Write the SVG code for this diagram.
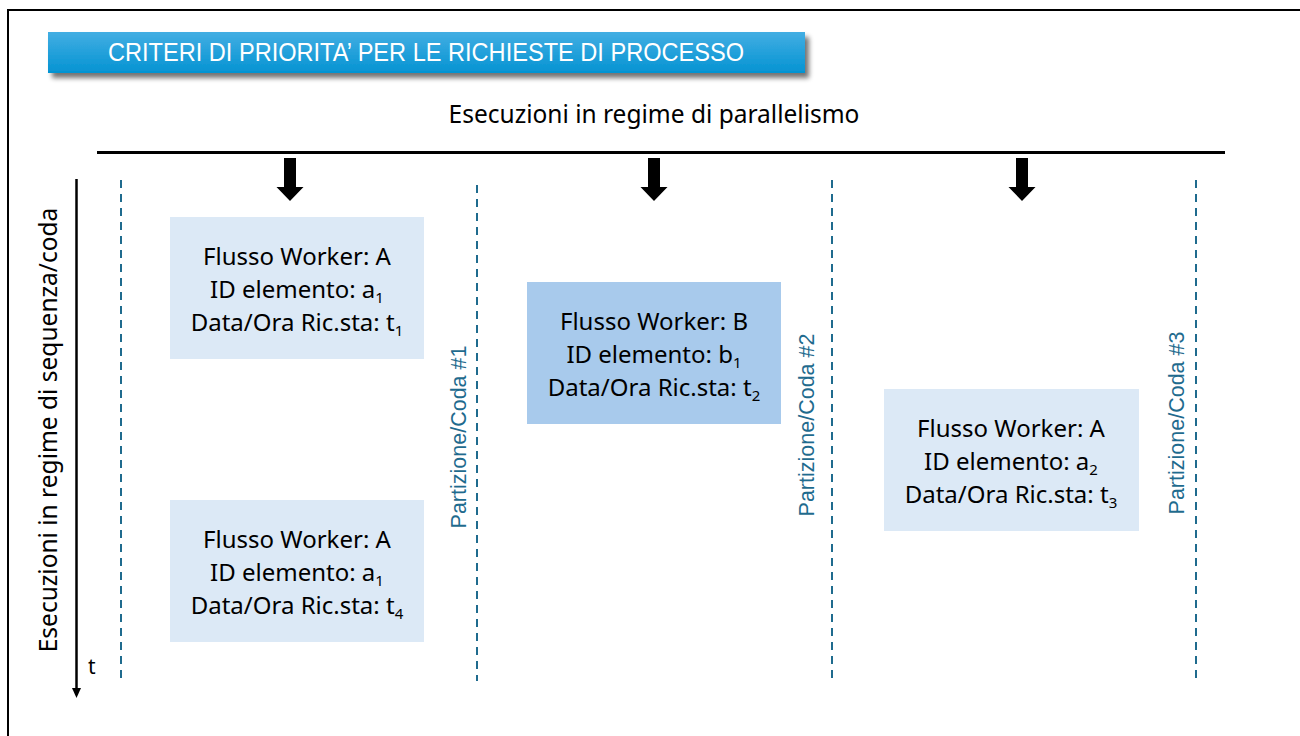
<svg xmlns="http://www.w3.org/2000/svg" width="1300" height="736" viewBox="0 0 1300 736">
<defs>
<linearGradient id="bannerGrad" x1="0" y1="0" x2="0" y2="1">
<stop offset="0" stop-color="#43aee3"/>
<stop offset="1" stop-color="#0493d2"/>
</linearGradient>
<filter id="shadow" x="-5%" y="-30%" width="110%" height="180%">
<feGaussianBlur in="SourceAlpha" stdDeviation="2.5"/>
<feOffset dx="4" dy="5" result="b"/>
<feComponentTransfer><feFuncA type="linear" slope="0.55"/></feComponentTransfer>
<feMerge><feMergeNode/><feMergeNode in="SourceGraphic"/></feMerge>
</filter>
<marker id="axisHead" markerWidth="10" markerHeight="10" refX="0" refY="4.5" orient="auto" markerUnits="userSpaceOnUse" viewBox="0 0 10 9">
<path d="M0,0 L10,4.5 L0,9 Z" fill="#000"/>
</marker>
<path id="blockArrow" d="M-6,0 L6,0 L6,29 L13.5,29 L0,43 L-13.5,29 L-6,29 Z" fill="#000"/>
</defs>
<style>
.box-light{fill:#dce9f6;}
.box-dark{fill:#a8caec;}
.node-text{font-family:"Noto Sans","Open Sans",sans-serif;font-size:24px;fill:#000;text-anchor:middle;}
.sub{font-size:15px;}
.part{stroke:#1f6b8e;stroke-width:2;stroke-dasharray:8 6;fill:none;}
.part-label{font-family:"Liberation Sans",Arial,sans-serif;font-size:21.5px;fill:#1f6b8e;text-anchor:middle;}
.main-text{font-family:"Noto Sans","Open Sans",sans-serif;font-size:24.5px;fill:#000;text-anchor:middle;}
</style>
<rect width="1300" height="736" fill="#fff"/>
<!-- outer frame -->
<path d="M8,736 L8,10 L1300,10" fill="none" stroke="#000" stroke-width="2"/>

<g id="title">
<rect x="48" y="32" width="757" height="41" fill="url(#bannerGrad)" filter="url(#shadow)"/>
<text x="426" y="61" font-family="'Liberation Sans Narrow','Liberation Sans',Arial,sans-serif" font-size="25" fill="#fff" text-anchor="middle" textLength="636" lengthAdjust="spacingAndGlyphs">CRITERI DI PRIORITA’ PER LE RICHIESTE DI PROCESSO</text>
</g>

<g id="parallel-header">
<text class="main-text" x="654" y="123">Esecuzioni in regime di parallelismo</text>
<line x1="97" y1="152.5" x2="1225" y2="152.5" stroke="#000" stroke-width="3"/>
</g>

<g id="sequence-axis">
<line x1="76.5" y1="179" x2="76.5" y2="688" stroke="#000" stroke-width="2.5" marker-end="url(#axisHead)"/>
<text class="main-text" transform="translate(57,430) rotate(-90)">Esecuzioni in regime di sequenza/coda</text>
<text x="88" y="674" font-family="'Noto Sans','Open Sans',sans-serif" font-size="21" fill="#000">t</text>
</g>

<g id="connectors">
<use href="#blockArrow" x="290" y="158"/>
<use href="#blockArrow" x="654" y="158"/>
<use href="#blockArrow" x="1022" y="158"/>
</g>

<g id="partitions">
<line class="part" x1="121" y1="180" x2="121" y2="678"/>
<line class="part" x1="477" y1="185" x2="477" y2="681"/>
<line class="part" x1="832" y1="180" x2="832" y2="678"/>
<line class="part" x1="1196" y1="180" x2="1196" y2="678"/>
<text class="part-label" transform="translate(466,437) rotate(-90)">Partizione/Coda #1</text>
<text class="part-label" transform="translate(814,425) rotate(-90)">Partizione/Coda #2</text>
<text class="part-label" transform="translate(1184,423) rotate(-90)">Partizione/Coda #3</text>
</g>

<g id="node-a1-t1">
<rect class="box-light" x="170" y="217" width="254" height="142"/>
<text class="node-text" x="297" y="265">Flusso Worker: A</text>
<text class="node-text" x="297" y="298">ID elemento: a<tspan class="sub" dy="5">1</tspan></text>
<text class="node-text" x="297" y="331">Data/Ora Ric.sta: t<tspan class="sub" dy="5">1</tspan></text>
</g>

<g id="node-a1-t4">
<rect class="box-light" x="170" y="500" width="254" height="142"/>
<text class="node-text" x="297" y="548">Flusso Worker: A</text>
<text class="node-text" x="297" y="581">ID elemento: a<tspan class="sub" dy="5">1</tspan></text>
<text class="node-text" x="297" y="614">Data/Ora Ric.sta: t<tspan class="sub" dy="5">4</tspan></text>
</g>

<g id="node-b1-t2">
<rect class="box-dark" x="527" y="282" width="254" height="142"/>
<text class="node-text" x="654" y="330">Flusso Worker: B</text>
<text class="node-text" x="654" y="363">ID elemento: b<tspan class="sub" dy="5">1</tspan></text>
<text class="node-text" x="654" y="396">Data/Ora Ric.sta: t<tspan class="sub" dy="5">2</tspan></text>
</g>

<g id="node-a2-t3">
<rect class="box-light" x="884" y="389" width="255" height="142"/>
<text class="node-text" x="1011" y="437">Flusso Worker: A</text>
<text class="node-text" x="1011" y="470">ID elemento: a<tspan class="sub" dy="5">2</tspan></text>
<text class="node-text" x="1011" y="503">Data/Ora Ric.sta: t<tspan class="sub" dy="5">3</tspan></text>
</g>
</svg>
